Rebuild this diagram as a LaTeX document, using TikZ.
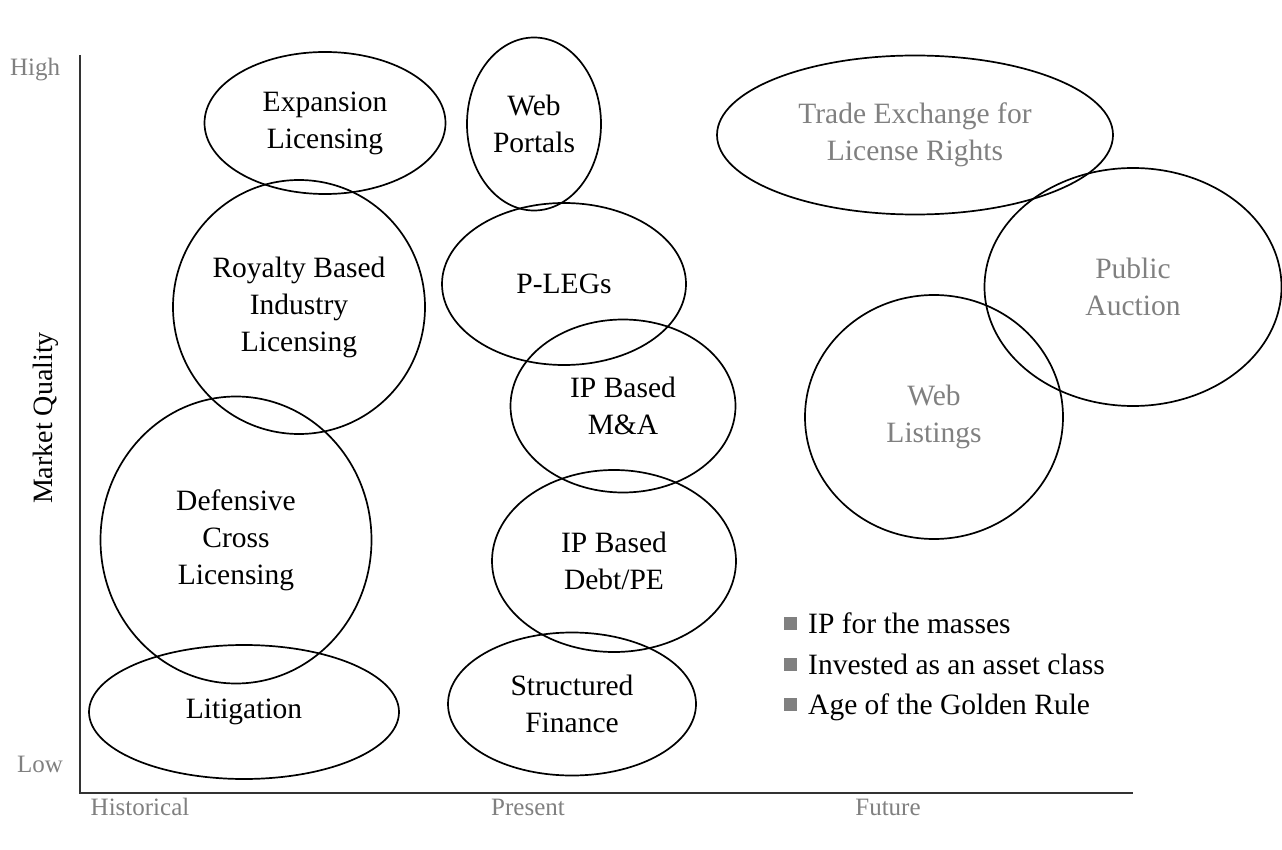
\documentclass[tikz,border=0pt]{standalone}
\usepackage{fontspec}
\setmainfont{Liberation Serif}
\usetikzlibrary{shapes.geometric}
\definecolor{labelgray}{HTML}{808080}
\definecolor{axisgray}{HTML}{333333}
\tikzset{
  bubble/.style={ellipse, draw=black, line width=1.7pt, inner sep=0pt, align=center,
    font=\fontsize{29.5}{37}\selectfont},
  future/.style={text=labelgray},
  axislabel/.style={text=labelgray, font=\fontsize{25}{28}\selectfont},
  legendtext/.style={anchor=base west, inner sep=0pt, font=\fontsize{29.5}{32}\selectfont},
  legendbox/.style={fill=labelgray, minimum size=13pt, inner sep=0pt}
}
\begin{document}
\begin{tikzpicture}[x=1pt, y=-1pt]
\useasboundingbox (0,0) rectangle (1282,850);
% axes
\coordinate (top) at (80,55);
\coordinate (origin) at (80,793);
\coordinate (right) at (1133,793);
\draw[axisgray, line width=2pt] (top) -- (origin) -- (right);
\node[axislabel] (high) at (35,70) {High};
\node[axislabel] (low) at (40,764) {Low};
\node[axislabel] (hist) at (140,807) {Historical};
\node[axislabel] (pres) at (528,807) {Present};
\node[axislabel] (fut) at (888,807) {Future};
\node[rotate=90, font=\fontsize{28}{32}\selectfont] (mq) at (46,418) {Market Quality};
% historical
\node[bubble, minimum width=241pt, minimum height=142pt] (exp) at (325,123) {Expansion\\Licensing};
\node[bubble, minimum width=252pt, minimum height=254pt] (roy) at (299,307) {Royalty Based\\Industry\\Licensing};
\node[bubble, minimum width=271pt, minimum height=287pt] (def) at (236,540) {Defensive\\Cross\\Licensing};
\node[bubble, minimum width=310pt, minimum height=134pt] (lit) at (244,712) {Litigation};
% present
\node[bubble, minimum width=134pt, minimum height=173pt] (web) at (534,124) {Web\\Portals};
\node[bubble, minimum width=244pt, minimum height=162pt] (pleg) at (564,284) {P-LEGs};
\node[bubble, minimum width=225pt, minimum height=173pt] (ma) at (623,406) {IP Based\\M\&A};
\node[bubble, minimum width=244pt, minimum height=182pt] (debt) at (614,561) {IP Based\\Debt/PE};
\node[bubble, minimum width=248pt, minimum height=143pt] (sf) at (572,704) {Structured\\Finance};
% future
\node[bubble, future, minimum width=396pt, minimum height=159pt] (trade) at (915,135) {Trade Exchange for\\License Rights};
\node[bubble, future, minimum width=297pt, minimum height=238pt] (auc) at (1133,287) {Public\\Auction};
\node[bubble, future, minimum width=258pt, minimum height=244pt] (list) at (934,417) {Web\\Listings};
% legend
\node[legendbox] (b1) at (790,623) {};
\node[legendbox] (b2) at (790,664) {};
\node[legendbox] (b3) at (790,704) {};
\node[legendtext] (l1) at (808,633) {IP for the masses};
\node[legendtext] (l2) at (808,674) {Invested as an asset class};
\node[legendtext] (l3) at (808,714) {Age of the Golden Rule};
\end{tikzpicture}
\end{document}
